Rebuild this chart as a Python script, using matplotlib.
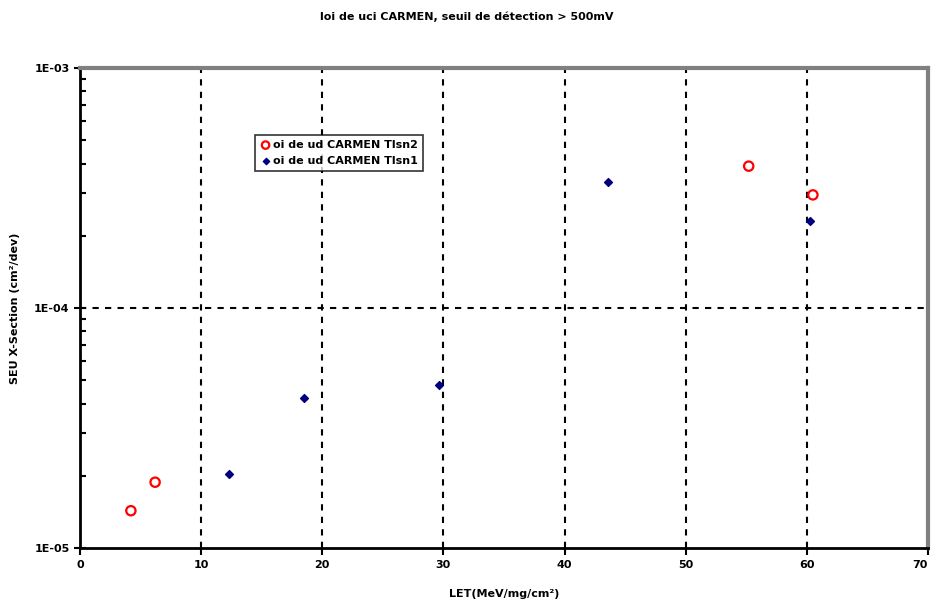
import matplotlib
matplotlib.use("Agg")
import matplotlib.pyplot as plt
from matplotlib.ticker import NullFormatter, LogLocator

title = "loi de uci CARMEN, seuil de détection > 500mV"
series2_name = "oi de ud CARMEN Tlsn2"
series1_name = "oi de ud CARMEN Tlsn1"

let_sn2 = [4.2, 6.2, 55.2, 60.5]
xs_sn2 = [1.43e-5, 1.88e-5, 3.9e-4, 2.96e-4]

let_sn1 = [12.3, 18.5, 29.6, 43.6, 60.3]
xs_sn1 = [2.03e-5, 4.2e-5, 4.8e-5, 3.35e-4, 2.3e-4]

x_ticks = [0, 10, 20, 30, 40, 50, 60, 70]
y_ticks = [1e-5, 1e-4, 1e-3]
y_ticklabels = ["1E-05", "1E-04", "1E-03"]

fig = plt.figure(figsize=(9.34, 6.01), dpi=100)
ax = fig.add_axes([80/934, 53/601, 848/934, 480/601])

ax.set_yscale("log")
ax.set_xlim(0, 70)
ax.set_ylim(1e-5, 1e-3)

ax.scatter(let_sn2, xs_sn2, s=45, facecolors="none", edgecolors="#ff0000",
           linewidths=1.6, label=series2_name, zorder=3)
ax.scatter(let_sn1, xs_sn1, s=16, marker="D", color="#000080",
           label=series1_name, zorder=3)

ax.set_xticks(x_ticks)
ax.set_xticklabels([str(v) for v in x_ticks], fontsize=8, fontweight="bold")
ax.get_xticklabels()[-1].set_horizontalalignment("right")
ax.set_yticks(y_ticks)
ax.set_yticklabels(y_ticklabels, fontsize=8, fontweight="bold")
ax.yaxis.set_minor_locator(LogLocator(base=10, subs=range(2, 10)))
ax.yaxis.set_minor_formatter(NullFormatter())

ax.tick_params(axis="y", which="major", direction="inout", length=8, width=1.5)
ax.tick_params(axis="y", which="minor", direction="in", length=4, width=1.5)
ax.tick_params(axis="x", which="major", direction="out", length=5, width=1.5)

for v in x_ticks[1:-1]:
    ax.axvline(v, color="black", linestyle=(0, (3, 3)), linewidth=1.5, zorder=1)
ax.axhline(1e-4, color="black", linestyle=(0, (3, 3)), linewidth=1.5, zorder=1)

ax.spines["left"].set_color("black")
ax.spines["left"].set_linewidth(2)
ax.spines["bottom"].set_color("black")
ax.spines["bottom"].set_linewidth(2)
ax.spines["top"].set_color("#808080")
ax.spines["top"].set_linewidth(3)
ax.spines["right"].set_color("#808080")
ax.spines["right"].set_linewidth(3)

ax.set_xlabel("LET(MeV/mg/cm²)", fontsize=8, fontweight="bold", labelpad=14)
ax.set_ylabel("SEU X-Section (cm²/dev)", fontsize=8, fontweight="bold", labelpad=10)
fig.text(0.5, 1 - 17/601, title, ha="center", va="center", fontsize=8, fontweight="bold")

leg = ax.legend(loc="upper left", bbox_to_anchor=(175/848, 1 - 67/480), frameon=True,
                fancybox=False, shadow=False, edgecolor="black", fontsize=8,
                handletextpad=0.2, borderpad=0.45, labelspacing=0.55, handlelength=1.0,
                borderaxespad=0, markerscale=0.8)
leg.get_frame().set_linewidth(1.2)
for t in leg.get_texts():
    t.set_fontweight("bold")

fig.savefig("out.png", dpi=100)
